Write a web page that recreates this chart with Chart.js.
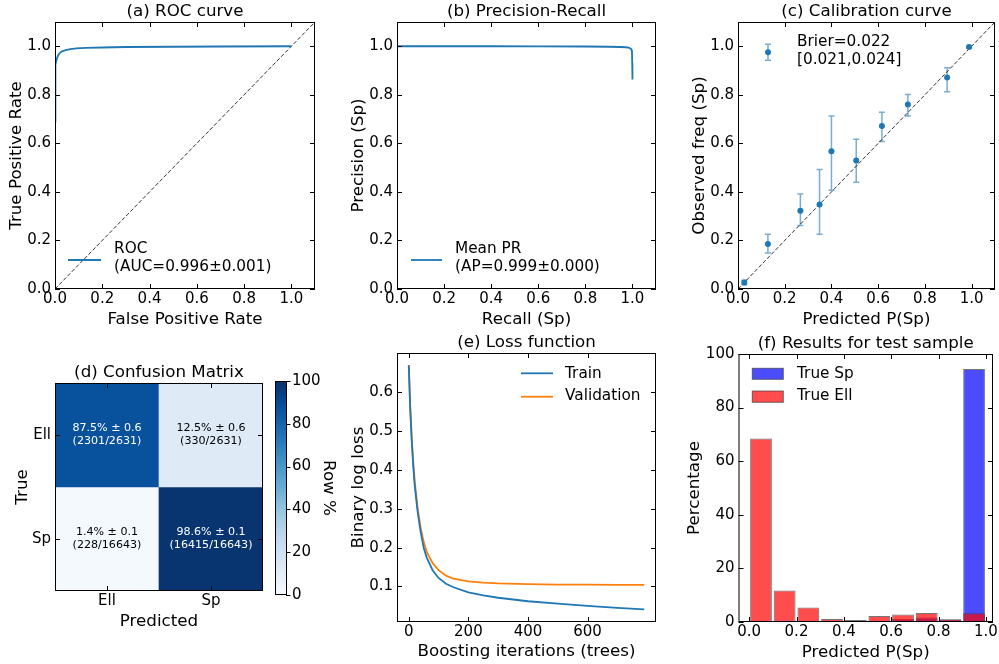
<!DOCTYPE html>
<html>
<head>
<meta charset="utf-8">
<script src="https://cdn.jsdelivr.net/npm/chart.js@4.4.1/dist/chart.umd.min.js"></script>
<style>
  html, body { margin: 0; padding: 0; background: #fff; }
  #fig { position: relative; width: 999px; height: 664px; overflow: hidden; background: #fff; }
  #fig canvas { position: absolute; left: 0; top: 0; }
</style>
</head>
<body>
<div id="fig">
  <canvas id="roc" width="999" height="664"></canvas>
  <canvas id="pr" width="999" height="664"></canvas>
  <canvas id="cal" width="999" height="664"></canvas>
  <canvas id="cm" width="999" height="664"></canvas>
  <canvas id="cbar" width="999" height="664"></canvas>
  <canvas id="loss" width="999" height="664"></canvas>
  <canvas id="hist" width="999" height="664"></canvas>
</div>
<script>
// ---- data ----
const rocFpr = [0, 0, 0.001, 0.002, 0.004, 0.007, 0.010, 0.015, 0.020, 0.030, 0.045, 0.065, 0.09, 0.13, 0.2, 0.3, 0.5, 0.7, 1.0];
const rocTpr = [0.69, 0.80, 0.87, 0.90, 0.925, 0.945, 0.955, 0.965, 0.972, 0.979, 0.984, 0.988, 0.991, 0.993, 0.995, 0.997, 0.998, 0.999, 1.0];

const prRecall = [0, 0.2, 0.4, 0.6, 0.8, 0.9, 0.95, 0.97, 0.98, 0.988, 0.993, 0.996, 0.998, 0.999, 1.0];
const prPrecision = [1.0, 1.0, 1.0, 0.9995, 0.999, 0.998, 0.997, 0.996, 0.995, 0.993, 0.99, 0.985, 0.975, 0.93, 0.863];

const diagX = [0, 1.1];
const diagY = [0, 1.1];

const calPred = [0.027, 0.128, 0.267, 0.349, 0.400, 0.506, 0.616, 0.727, 0.895, 0.989];
const calObs  = [0.027, 0.185, 0.322, 0.348, 0.568, 0.529, 0.672, 0.760, 0.871, 0.997];
const calLo   = [0.018, 0.148, 0.262, 0.226, 0.407, 0.440, 0.608, 0.713, 0.813, 0.992];
const calHi   = [0.036, 0.226, 0.391, 0.492, 0.713, 0.617, 0.728, 0.801, 0.912, 1.000];

const cmClasses = ['Ell', 'Sp'];
const cmPct   = [[87.5, 12.5], [1.4, 98.6]];
const cmErr   = [[0.6, 0.6], [0.1, 0.1]];
const cmCount = [[2301, 330], [228, 16415]];
const cmTotal = [2631, 16643];

const lossIter  = [0, 5, 10, 15, 20, 30, 40, 50, 60, 80, 100, 125, 150, 200, 250, 300, 400, 500, 600, 700, 790];
const lossTrain = [0.67, 0.555, 0.475, 0.41, 0.36, 0.29, 0.24, 0.20, 0.175, 0.142, 0.122, 0.107, 0.098, 0.085, 0.077, 0.071, 0.062, 0.056, 0.050, 0.045, 0.041];
const lossVal   = [0.67, 0.56, 0.48, 0.42, 0.37, 0.30, 0.25, 0.215, 0.19, 0.16, 0.142, 0.128, 0.12, 0.113, 0.110, 0.108, 0.106, 0.105, 0.105, 0.104, 0.104];

const histBins = [0.05, 0.15, 0.25, 0.35, 0.45, 0.55, 0.65, 0.75, 0.85, 0.95];
const histSp   = [0.4, 0.3, 0.3, 0.2, 0.2, 0.5, 1.1, 1.7, 0.9, 94.4];
const histEll  = [68.5, 11.8, 5.4, 1.1, 0.7, 2.2, 2.8, 3.4, 1.0, 3.3];

const ticks01 = [0, 0.2, 0.4, 0.6, 0.8, 1.0];
const lossXTicks = [0, 200, 400, 600];
const lossYTicks = [0.1, 0.2, 0.3, 0.4, 0.5, 0.6];
const pctTicks = [0, 20, 40, 60, 80, 100];
const cmTicks = [0.5, 1.5];

// ---- styling helpers ----
const FIG_W = 999, FIG_H = 664;
const Y_SIZE = 50, X_SIZE = 30; // room kept for tick labels outside the plot box
const FONT = "'DejaVu Sans', sans-serif";
Chart.defaults.font.family = FONT;
Chart.defaults.color = '#000';

// matplotlib "Blues"
const bluesStops = [[247,251,255],[222,235,247],[198,219,239],[158,202,225],[107,174,214],[66,146,198],[33,113,181],[8,81,156],[8,48,107]];
function blues(t) {
  t = Math.max(0, Math.min(1, t));
  const p = t * 8, i = Math.min(7, Math.floor(p)), f = p - i;
  const a = bluesStops[i], b = bluesStops[i + 1];
  return `rgb(${a.map((v, k) => Math.round(v + (b[k] - v) * f)).join(',')})`;
}

const f1 = v => v.toFixed(1);
const fInt = v => String(Math.round(v));

function axis(min, max, tickVals, fmt, pad, size, extra) {
  return Object.assign({
    type: 'linear', min: min, max: max, bounds: 'data', offset: false,
    grid: { display: false, drawTicks: false }, border: { display: false },
    ticks: { autoSkip: false, maxRotation: 0, minRotation: 0, padding: pad, font: { size: 15 }, color: '#000', callback: fmt },
    afterBuildTicks: s => { s.ticks = tickVals.map(v => ({ value: v })); },
    afterFit: s => {
      if (s.isHorizontal()) s.height = size; else s.width = size;
      s.paddingLeft = s.paddingRight = s.paddingTop = s.paddingBottom = 0;
    }
  }, extra || {});
}

// box = plot area [left, top, right, bottom] in figure pixels
function baseOptions(box, scales, sides) {
  sides = sides || { left: Y_SIZE, bottom: X_SIZE, right: 0 };
  return {
    responsive: false, animation: false, devicePixelRatio: 1, events: [],
    layout: { padding: {
      left: box[0] - sides.left, top: box[1],
      right: FIG_W - box[2] - sides.right, bottom: FIG_H - box[3] - sides.bottom
    } },
    plugins: { legend: { display: false }, tooltip: { enabled: false } },
    scales: scales
  };
}

// frame, inward ticks, titles, axis labels and legend like matplotlib
function mpl(meta) {
  return {
    id: 'mpl',
    afterDraw(chart) {
      const ctx = chart.ctx, a = chart.chartArea;
      const xs = chart.scales.x, ys = chart.scales.y;
      const L = a.left, R = a.right, T = a.top, B = a.bottom;
      ctx.save();
      ctx.strokeStyle = '#000';
      ctx.lineWidth = 1;
      ctx.setLineDash([]);
      ctx.beginPath();
      if (meta.ticks === 'in') {
        xs.ticks.forEach(t => {
          const p = Math.round(xs.getPixelForValue(t.value)) + 0.5;
          ctx.moveTo(p, B); ctx.lineTo(p, B - 5);
          ctx.moveTo(p, T); ctx.lineTo(p, T + 5);
        });
        ys.ticks.forEach(t => {
          const p = Math.round(ys.getPixelForValue(t.value)) + 0.5;
          ctx.moveTo(L, p); ctx.lineTo(L + 5, p);
          ctx.moveTo(R, p); ctx.lineTo(R - 5, p);
        });
      } else if (meta.ticks === 'cbar') {
        ys.ticks.forEach(t => {
          const p = Math.round(ys.getPixelForValue(t.value)) + 0.5;
          ctx.moveTo(R - 1, p); ctx.lineTo(R + 3.5, p);
        });
      }
      ctx.stroke();
      ctx.strokeRect(L + 0.5, T + 0.5, R - L - 1, B - T - 1);

      ctx.fillStyle = '#000';
      ctx.font = `16.7px ${FONT}`;
      ctx.textAlign = 'center';
      ctx.textBaseline = 'alphabetic';
      if (meta.title) ctx.fillText(meta.title, (L + R) / 2, T - 6);
      if (meta.xlabel) ctx.fillText(meta.xlabel, (L + R) / 2, B + meta.xlDy);
      if (meta.ylabel) {
        ctx.save();
        ctx.translate(L - meta.ylDx, (T + B) / 2);
        ctx.rotate(-Math.PI / 2);
        ctx.fillText(meta.ylabel, 0, 0);
        ctx.restore();
      }
      if (meta.rlabel) {
        ctx.save();
        ctx.translate(R + meta.rlDx, (T + B) / 2);
        ctx.rotate(Math.PI / 2);
        ctx.fillText(meta.rlabel, 0, 0);
        ctx.restore();
      }

      (meta.legend || []).forEach(it => {
        if (it.type === 'line') {
          ctx.strokeStyle = it.color; ctx.lineWidth = 1.8;
          ctx.beginPath(); ctx.moveTo(L + it.x0, T + it.y); ctx.lineTo(L + it.x1, T + it.y); ctx.stroke();
        } else if (it.type === 'patch') {
          ctx.fillStyle = it.fill;
          ctx.fillRect(L + it.x0, T + it.y0, it.x1 - it.x0, it.y1 - it.y0);
          ctx.strokeStyle = it.edge; ctx.lineWidth = 1;
          ctx.strokeRect(L + it.x0, T + it.y0, it.x1 - it.x0, it.y1 - it.y0);
        } else if (it.type === 'errbar') {
          const x = L + it.x, y = T + it.y;
          ctx.strokeStyle = 'rgba(31,119,180,0.6)'; ctx.lineWidth = 1.5;
          ctx.beginPath();
          ctx.moveTo(x, y - it.h); ctx.lineTo(x, y + it.h);
          ctx.moveTo(x - 3, y - it.h); ctx.lineTo(x + 3, y - it.h);
          ctx.moveTo(x - 3, y + it.h); ctx.lineTo(x + 3, y + it.h);
          ctx.stroke();
          ctx.fillStyle = '#1f77b4';
          ctx.beginPath(); ctx.arc(x, y, 3, 0, Math.PI * 2); ctx.fill();
        } else if (it.type === 'text') {
          ctx.fillStyle = '#000';
          ctx.font = `15.3px ${FONT}`;
          ctx.textAlign = 'left';
          ctx.textBaseline = 'middle';
          ctx.fillText(it.text, L + it.x, T + it.y);
        }
      });
      ctx.restore();
    }
  };
}

const pts = (xs, ys) => xs.map((x, i) => ({ x: x, y: ys[i] }));
const diagSet = { data: pts(diagX, diagY), showLine: true, borderColor: '#000', borderWidth: 0.8, borderDash: [4, 2], pointRadius: 0 };

// (a) ROC curve
new Chart(document.getElementById('roc'), {
  type: 'scatter',
  data: { datasets: [
    { data: pts(rocFpr, rocTpr), showLine: true, borderColor: '#1f77b4', borderWidth: 1.8, pointRadius: 0 },
    diagSet
  ] },
  options: baseOptions([55, 22, 315, 289], {
    x: axis(0, 1.1, ticks01, f1, 1, X_SIZE),
    y: axis(0, 1.1, ticks01, f1, 4, Y_SIZE)
  }),
  plugins: [mpl({
    ticks: 'in', title: '(a) ROC curve', xlabel: 'False Positive Rate', xlDy: 35, ylabel: 'True Positive Rate', ylDx: 34,
    legend: [
      { type: 'line', color: '#1f77b4', x0: 13, x1: 46, y: 238 },
      { type: 'text', text: 'ROC', x: 59, y: 227.5 },
      { type: 'text', text: '(AUC=0.996\u00b10.001)', x: 59, y: 245.5 }
    ]
  })]
});

// (b) Precision-Recall
new Chart(document.getElementById('pr'), {
  type: 'scatter',
  data: { datasets: [
    { data: pts(prRecall, prPrecision), showLine: true, borderColor: '#1f77b4', borderWidth: 1.8, pointRadius: 0 }
  ] },
  options: baseOptions([397, 22, 656, 289], {
    x: axis(0, 1.1, ticks01, f1, 1, X_SIZE),
    y: axis(0, 1.1, ticks01, f1, 4, Y_SIZE)
  }),
  plugins: [mpl({
    ticks: 'in', title: '(b) Precision-Recall', xlabel: 'Recall (Sp)', xlDy: 35, ylabel: 'Precision (Sp)', ylDx: 34,
    legend: [
      { type: 'line', color: '#1f77b4', x0: 14, x1: 45, y: 238 },
      { type: 'text', text: 'Mean PR', x: 58, y: 227.5 },
      { type: 'text', text: '(AP=0.999\u00b10.000)', x: 58, y: 245.5 }
    ]
  })]
});

// (c) Calibration curve
const errBars = {
  id: 'errbars',
  beforeDatasetsDraw(chart) {
    const ctx = chart.ctx, xs = chart.scales.x, ys = chart.scales.y;
    ctx.save();
    ctx.strokeStyle = 'rgba(31,119,180,0.6)';
    ctx.lineWidth = 1.5;
    ctx.beginPath();
    calPred.forEach((x, i) => {
      const px = xs.getPixelForValue(x), y0 = ys.getPixelForValue(calLo[i]), y1 = ys.getPixelForValue(calHi[i]);
      ctx.moveTo(px, y0); ctx.lineTo(px, y1);
      ctx.moveTo(px - 3, y0); ctx.lineTo(px + 3, y0);
      ctx.moveTo(px - 3, y1); ctx.lineTo(px + 3, y1);
    });
    ctx.stroke();
    ctx.restore();
  }
};
new Chart(document.getElementById('cal'), {
  type: 'scatter',
  data: { datasets: [
    { data: pts(calPred, calObs), pointRadius: 3, pointBackgroundColor: '#1f77b4', pointBorderWidth: 0 },
    diagSet
  ] },
  options: baseOptions([738, 22, 998, 289], {
    x: axis(0, 1.1, ticks01, f1, 1, X_SIZE),
    y: axis(0, 1.1, ticks01, f1, 4, Y_SIZE)
  }),
  plugins: [errBars, mpl({
    ticks: 'in', title: '(c) Calibration curve', xlabel: 'Predicted P(Sp)', xlDy: 35, ylabel: 'Observed freq (Sp)', ylDx: 34,
    legend: [
      { type: 'errbar', x: 30, y: 30.3, h: 8 },
      { type: 'text', text: 'Brier=0.022', x: 59, y: 20.5 },
      { type: 'text', text: '[0.021,0.024]', x: 59, y: 38.5 }
    ]
  })]
});

// (d) Confusion matrix
const cmText = {
  id: 'cmText',
  afterDatasetsDraw(chart) {
    const ctx = chart.ctx;
    ctx.save();
    ctx.font = `11.1px ${FONT}`;
    ctx.textAlign = 'center';
    ctx.textBaseline = 'middle';
    cmClasses.forEach((_, r) => {
      chart.getDatasetMeta(r).data.forEach((el, c) => {
        const cy = (el.y + el.base) / 2;
        ctx.fillStyle = cmPct[r][c] > 50 ? '#fff' : '#000';
        ctx.fillText(`${cmPct[r][c].toFixed(1)}% \u00b1 ${cmErr[r][c].toFixed(1)}`, el.x, cy - 6.5);
        ctx.fillText(`(${cmCount[r][c]}/${cmTotal[r]})`, el.x, cy + 6.5);
      });
    });
    ctx.restore();
  }
};
new Chart(document.getElementById('cm'), {
  type: 'bar',
  data: { datasets: cmClasses.map((_, r) => ({
    data: cmTicks.map(x => ({ x: x, y: [r, r + 1] })),
    backgroundColor: cmPct[r].map(v => blues(v / 100)),
    borderWidth: 0,
    barPercentage: 1, categoryPercentage: 1, grouped: false
  })) },
  options: baseOptions([55, 383, 263, 591], {
    x: axis(0, 2, cmTicks, (v, i) => cmClasses[i], 1.5, X_SIZE),
    y: axis(0, 2, cmTicks, (v, i) => cmClasses[i], 4, Y_SIZE, { reverse: true })
  }),
  plugins: [cmText, mpl({
    ticks: 'in', title: '(d) Confusion Matrix', xlabel: 'Predicted', xlDy: 35, ylabel: 'True', ylDx: 28
  })]
});

// colorbar for (d)
new Chart(document.getElementById('cbar'), {
  type: 'bar',
  data: { datasets: [{
    data: [{ x: 0.5, y: [0, 100] }],
    backgroundColor: c => {
      const a = c.chart.chartArea;
      if (!a) return blues(0.5);
      const g = c.chart.ctx.createLinearGradient(0, a.bottom, 0, a.top);
      bluesStops.forEach((s, i) => g.addColorStop(i / 8, `rgb(${s.join(',')})`));
      return g;
    },
    borderWidth: 0, barPercentage: 1, categoryPercentage: 1
  }] },
  options: baseOptions([275, 381, 287, 595], {
    x: axis(0, 1, [0, 1], () => '', 0, 0, { display: false }),
    y: axis(0, 100, pctTicks, fInt, 5, 40, { position: 'right' })
  }, { left: 0, bottom: 0, right: 40 }),
  plugins: [mpl({ ticks: 'cbar', rlabel: 'Row %', rlDx: 36.5 })]
});

// (e) Loss function
new Chart(document.getElementById('loss'), {
  type: 'scatter',
  data: { datasets: [
    { data: pts(lossIter, lossTrain), showLine: true, borderColor: '#1f77b4', borderWidth: 1.8, pointRadius: 0 },
    { data: pts(lossIter, lossVal), showLine: true, borderColor: '#ff7f0e', borderWidth: 1.8, pointRadius: 0 }
  ] },
  options: baseOptions([397, 353, 656, 622], {
    x: axis(-39.5, 829.5, lossXTicks, fInt, 1, X_SIZE),
    y: axis(0.0085, 0.7015, lossYTicks, f1, 4, Y_SIZE)
  }),
  plugins: [mpl({
    ticks: 'in', title: '(e) Loss function', xlabel: 'Boosting iterations (trees)', xlDy: 34, ylabel: 'Binary log loss', ylDx: 34,
    legend: [
      { type: 'line', color: '#1f77b4', x0: 124, x1: 156, y: 20.3 },
      { type: 'text', text: 'Train', x: 168, y: 21 },
      { type: 'line', color: '#ff7f0e', x0: 124, x1: 156, y: 43.7 },
      { type: 'text', text: 'Validation', x: 168, y: 43.5 }
    ]
  })]
});

// (f) Results for test sample
const barEdge = 'rgba(60,60,60,0.7)';
new Chart(document.getElementById('hist'), {
  type: 'bar',
  data: { datasets: [
    { data: pts(histBins, histSp), backgroundColor: 'rgba(0,0,255,0.7)', borderColor: barEdge, borderWidth: 1, borderSkipped: false,
      barPercentage: 0.92, categoryPercentage: 1, grouped: false, order: 1 },
    { data: pts(histBins, histEll), backgroundColor: 'rgba(255,0,0,0.7)', borderColor: barEdge, borderWidth: 1, borderSkipped: false,
      barPercentage: 0.92, categoryPercentage: 1, grouped: false, order: 0 }
  ] },
  options: baseOptions([738.5, 354, 993, 622], {
    x: axis(-0.045, 1.03, ticks01, f1, 1, X_SIZE),
    y: axis(0, 100, pctTicks, fInt, 4, Y_SIZE)
  }),
  plugins: [mpl({
    ticks: 'in', title: '(f) Results for test sample', xlabel: 'Predicted P(Sp)', xlDy: 35, ylabel: 'Percentage', ylDx: 39.5,
    legend: [
      { type: 'patch', fill: 'rgba(0,0,255,0.7)', edge: barEdge, x0: 13.8, x1: 44.8, y0: 14.3, y1: 25.3 },
      { type: 'text', text: 'True Sp', x: 58.5, y: 20 },
      { type: 'patch', fill: 'rgba(255,0,0,0.7)', edge: barEdge, x0: 13.8, x1: 44.8, y0: 37, y1: 48.3 },
      { type: 'text', text: 'True Ell', x: 58.5, y: 42.5 }
    ]
  })]
});
</script>
</body>
</html>
